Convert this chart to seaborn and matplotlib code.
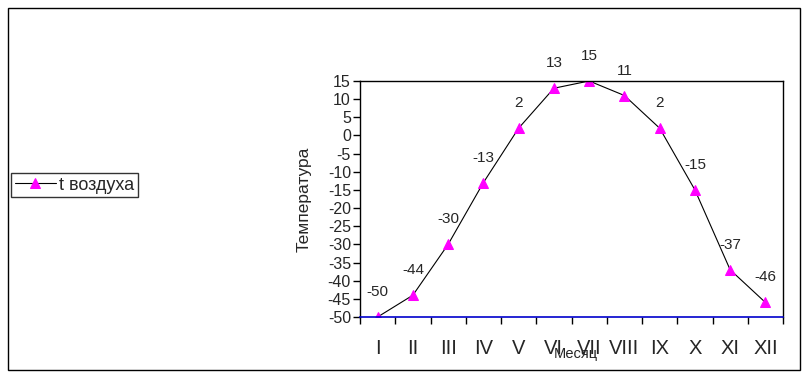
import matplotlib
matplotlib.use("Agg")
import matplotlib.pyplot as plt
import seaborn as sns
import pandas as pd
import numpy as np
from matplotlib.patches import Rectangle

months = ['I', 'II', 'III', 'IV', 'V', 'VI', 'VII', 'VIII', 'IX', 'X', 'XI', 'XII']
temps = [-50, -44, -30, -13, 2, 13, 15, 11, 2, -15, -37, -46]
yticks = list(range(-50, 20, 5))

sns.set_style("white")
plt.rcParams['font.family'] = ['Liberation Sans', 'DejaVu Sans']

df = pd.DataFrame({'pos': np.arange(len(months)), 'temp': temps})

fig = plt.figure(figsize=(8.07, 3.77), dpi=100)
# outer frame of the whole chart
fig.patches.append(Rectangle((8 / 807, 7 / 377), 792 / 807, 362 / 377,
                             transform=fig.transFigure, fill=False,
                             edgecolor='black', linewidth=1))
ax = fig.add_axes([0.4461, 0.1592, 0.5242, 0.6260])

sns.lineplot(data=df, x='pos', y='temp', ax=ax, color='black', linewidth=0.8,
             marker='^', markersize=7.5, markerfacecolor='#FF00FF',
             markeredgecolor='#FF00FF', label='t воздуха')

for p, t in zip(df['pos'], df['temp']):
    ax.annotate(str(t), (p, t), xytext=(0, 18), textcoords='offset points',
                ha='center', va='center', fontsize=11)

ax.set_xlim(-0.5, len(months) - 0.5)
ax.set_ylim(-50, 15)
ax.set_yticks(yticks)
ax.set_yticklabels([str(v) for v in yticks], fontsize=11.5)
ax.set_xticks(np.arange(len(months)))
ax.set_xticklabels(months, fontsize=14.5)
ax.set_xticks(np.arange(-0.5, len(months) + 0.5, 1), minor=True)
ax.tick_params(axis='x', which='major', length=0, pad=16)
ax.tick_params(axis='x', which='minor', length=5, width=1, color='black', direction='out', bottom=True)
ax.tick_params(axis='y', which='major', length=5, width=1, color='black', direction='out', left=True, pad=1.5)

for s in ['top', 'right', 'left']:
    ax.spines[s].set_color('black')
    ax.spines[s].set_linewidth(1)
ax.spines['bottom'].set_color('#0000CC')
ax.spines['bottom'].set_linewidth(1.2)

ax.set_xlabel('')
ax.set_ylabel('Температура', fontsize=12.5)
ax.yaxis.set_label_coords(-0.115, 0.5)
fig.text(576 / 807, 1 - 354 / 377, 'Месяц', ha='center', va='center', fontsize=10.5)

handles, labels = ax.get_legend_handles_labels()
ax.legend(handles, labels, loc='center left', bbox_to_anchor=(11 / 807, 1 - 185 / 377),
          bbox_transform=fig.transFigure, fontsize=13, frameon=True, fancybox=False,
          edgecolor='black', borderpad=0.2, handlelength=2.3, handletextpad=0.15,
          borderaxespad=0)
ax.get_legend().get_frame().set_linewidth(1)

plt.savefig('out.png', dpi=100)
